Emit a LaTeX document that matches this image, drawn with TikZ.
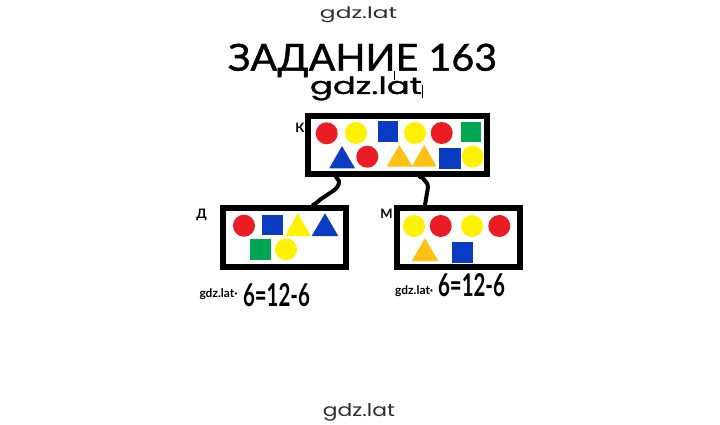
\documentclass[tikz,border=0pt]{standalone}
\usepackage{fontspec}
\usepackage{graphicx}
\setmainfont{Lato}
\newfontfamily\wmfont{Poppins}
\newfontfamily\wmmedfont{Poppins}[FakeBold=1.2]
\newfontfamily\titlefont{Lato}[FakeBold=1.2]
\usetikzlibrary{calc}
\definecolor{cred}{RGB}{236,28,36}
\definecolor{cyel}{RGB}{255,242,0}
\definecolor{cblu}{RGB}{10,60,195}
\definecolor{cgrn}{RGB}{0,166,81}
\definecolor{corg}{RGB}{255,193,20}
\definecolor{wmgray}{RGB}{45,45,45}
\newcommand\shC[3]{\fill[#1] (#2,#3) circle (11);}
\newcommand\shS[5]{\fill[#1] (#2,#3) rectangle (#4,#5);}
\newcommand\shT[6]{\fill[#1] (#2,#3) -- (#4,#6) -- (#5,#6) -- cycle;}
\begin{document}
\begin{tikzpicture}[x=1pt,y=-1pt,
  setbox/.style={draw=black,line width=6pt,minimum width=#1,minimum height=59pt,inner sep=0pt,fill=white},
  conn/.style={draw=black,line width=4pt,line cap=round,line join=round},
  setlabel/.style={font=\fontsize{13}{13}\selectfont\bfseries,anchor=base},
  wm/.style={text=wmgray,anchor=base,inner sep=0pt},
  eqtext/.style={anchor=base,inner sep=0pt}]
\useasboundingbox (0,0) rectangle (720,425);
% watermarks and title
\node[wm] (wtop) at (358.5,18.3) {\resizebox{77pt}{11.7pt}{\wmfont gdz.lat}};
\node[wm] (wbot) at (359,416) {\resizebox{72pt}{13pt}{\wmfont gdz.lat}};
\node[anchor=base,inner sep=0pt] (title) at (362.5,70.7) {\resizebox{269pt}{27pt}{\titlefont ЗАДАНИЕ 163}};
\node[anchor=base,inner sep=0pt] (wmid) at (366,94) {\resizebox{112pt}{17.5pt}{\wmmedfont gdz.lat}};
\draw[line width=1.3pt] (422.5,85) -- (422.5,98);
\draw[line width=1pt] (394,71) -- (394,80);
% boxes
\node[setbox=179pt,minimum height=58pt] (K) at (397.5,145) {};
\node[setbox=123pt] (D) at (284.5,237.5) {};
\node[setbox=123.5pt] (M) at (458.25,237.5) {};
\node[setlabel] (lK) at (300,132) {К};
\node[setlabel] (lD) at (201.5,218) {Д};
\node[setlabel] (lM) at (386.5,218) {М};
% connectors
\coordinate (ka) at ($(K.south west)+(31,0)$);
\coordinate (kb) at ($(K.south west)+(115,0)$);
\coordinate (da) at ($(D.north west)+(93,0)$);
\coordinate (ma) at ($(M.north west)+(31.5,0)$);
\draw[conn] (ka) -- (339,181) .. controls (339,186) and (337,188) .. (333,191) -- (321,199) .. controls (317,202) and (316,204) .. (da);
\draw[conn] (kb) -- (423,178) .. controls (424,181) and (428,182) .. (428,187) -- (ma);
% shapes in K
\shC{cred}{326.7}{133.3}
\shC{cyel}{356}{133}
\shS{cblu}{377.7}{121}{398.3}{141.7}
\shC{cyel}{415}{133}
\shC{cred}{441.7}{133}
\shS{cgrn}{460.7}{121.7}{481}{141.7}
\shT{cblu}{342}{146}{329.3}{355}{168.3}
\shC{cred}{367.3}{156.7}
\shT{corg}{399.3}{145}{386.7}{412.7}{166.7}
\shT{corg}{424.3}{145}{411.7}{436.7}{166.7}
\shS{cblu}{439.3}{148.3}{460.7}{169.3}
\shC{cyel}{472.7}{156.7}
% shapes in D
\shC{cred}{244}{225.7}
\shS{cblu}{261.7}{215}{282.7}{235}
\shT{cyel}{297.7}{213.3}{285}{310.7}{236}
\shT{cblu}{325}{213.3}{311.7}{338.3}{236}
\shS{cgrn}{250}{239.3}{270.7}{260.3}
\shC{cyel}{286}{249.3}
% shapes in M
\shC{cyel}{414}{226}
\shC{cred}{440.7}{226}
\shC{cyel}{472}{226}
\shC{cred}{499.3}{226}
\shT{corg}{425}{238.3}{411.7}{438.3}{261}
\shS{cblu}{451.7}{241.7}{472.7}{262.7}
% equations
\node[eqtext,anchor=base west] (gl) at (199.3,297) {\resizebox{38pt}{!}{\bfseries gdz.lat·}};
\node[eqtext] (el) at (276.5,306.7) {\resizebox{67pt}{23pt}{\bfseries 6=12-6}};
\node[eqtext,anchor=base west] (gr) at (395,294) {\resizebox{38pt}{!}{\bfseries gdz.lat·}};
\node[eqtext] (er) at (471.5,296.7) {\resizebox{67pt}{23pt}{\bfseries 6=12-6}};
\end{tikzpicture}
\end{document}
